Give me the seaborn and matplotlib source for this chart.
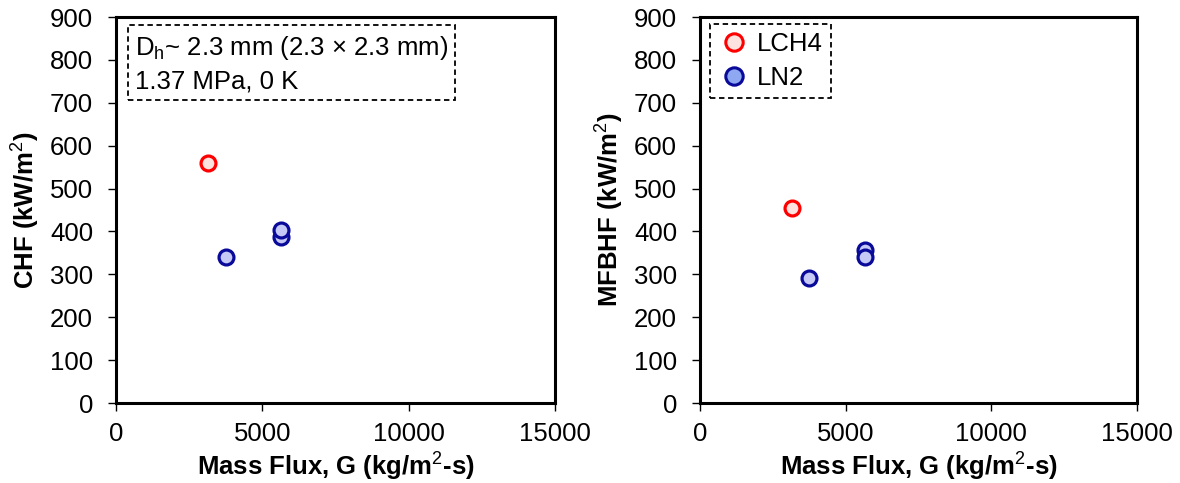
import matplotlib
matplotlib.use("Agg")
import matplotlib.pyplot as plt
from matplotlib.lines import Line2D
import seaborn as sns
import pandas as pd

# Mass flux and heat flux measurements per fluid
lch4_G = [3150]
lch4_chf = [560]
lch4_mfbhf = [455]

ln2_G = [3750, 5650, 5650]
ln2_chf = [340, 388, 403]
ln2_mfbhf = [292, 356, 341]

x_ticks = [0, 5000, 10000, 15000]
y_ticks = [0, 100, 200, 300, 400, 500, 600, 700, 800, 900]

sns.set_theme(style="white")
plt.rcParams["font.family"] = ["Liberation Sans", "DejaVu Sans"]
plt.rcParams["mathtext.fontset"] = "custom"
plt.rcParams["mathtext.rm"] = "Liberation Sans"
plt.rcParams["mathtext.it"] = "Liberation Sans"
plt.rcParams["mathtext.bf"] = "Liberation Sans:bold"
for key in ("text.color", "axes.labelcolor", "xtick.color", "ytick.color"):
    plt.rcParams[key] = "black"

FS = 18.5

df_lch4 = pd.DataFrame({"G": lch4_G, "CHF": lch4_chf, "MFBHF": lch4_mfbhf})
df_ln2 = pd.DataFrame({"G": ln2_G, "CHF": ln2_chf, "MFBHF": ln2_mfbhf})

styles = {
    "LCH4": dict(face="#fde3df", edge="#ff0000", legend_face="#fde3df"),
    "LN2": dict(face="#c6c9f6", edge="#0a0a9a", legend_face="#8fa8f2"),
}

fig = plt.figure(figsize=(11.8, 4.83), dpi=100)
ax1 = fig.add_axes([0.0983, 0.1656, 0.3720, 0.7992])
ax2 = fig.add_axes([0.5932, 0.1656, 0.3703, 0.7992])


def draw(ax, col, ylabel):
    for name, df in (("LCH4", df_lch4), ("LN2", df_ln2)):
        st = styles[name]
        sns.scatterplot(data=df, x="G", y=col, ax=ax, s=115, marker="o",
                        color=st["face"], edgecolor=st["edge"], linewidth=2.3,
                        zorder=3, legend=False)
    ax.set_xlim(0, 15000)
    ax.set_ylim(0, 900)
    ax.set_xticks(x_ticks)
    ax.set_yticks(y_ticks)
    ax.set_xticklabels([str(v) for v in x_ticks])
    ax.set_yticklabels([str(v) for v in y_ticks])
    ax.tick_params(axis="both", direction="out", length=5.5, width=1.0,
                   labelsize=FS, colors="black", bottom=True, left=True)
    ax.tick_params(axis="x", pad=8.5)
    ax.tick_params(axis="y", pad=11)
    for sp in ax.spines.values():
        sp.set_color("black")
        sp.set_linewidth(2.2)
        sp.set_visible(True)
    ax.set_xlabel("Mass Flux, G (kg/m$^{2}$-s)", fontsize=FS, fontweight="bold",
                  labelpad=3)
    ax.set_ylabel(ylabel, fontsize=FS, fontweight="bold", labelpad=6)


draw(ax1, "CHF", "CHF (kW/m$^{2}$)")
draw(ax2, "MFBHF", "MFBHF (kW/m$^{2}$)")

# Test condition note
ax1.text(0.043, 0.955, "D$_{\\mathrm{h}}$~ 2.3 mm (2.3 × 2.3 mm)\n1.37 MPa, 0 K",
         transform=ax1.transAxes, ha="left", va="top", fontsize=FS,
         linespacing=1.35,
         bbox=dict(boxstyle="square,pad=0.28", fc="white", ec="black",
                   lw=1.3, ls=(0, (3, 2))))

handles = [
    Line2D([], [], ls="none", marker="o", markersize=12.5, markeredgewidth=2.2,
           markerfacecolor=styles[n]["legend_face"],
           markeredgecolor=styles[n]["edge"], label=n)
    for n in ("LCH4", "LN2")
]
leg = ax2.legend(handles=handles, loc="upper left", fontsize=FS,
                 frameon=True, fancybox=False, borderpad=0.3,
                 handletextpad=0.25, labelspacing=0.4, handlelength=1.3,
                 bbox_to_anchor=(0.022, 0.982), borderaxespad=0.0)
frame = leg.get_frame()
frame.set_edgecolor("black")
frame.set_linewidth(1.3)
frame.set_linestyle((0, (3, 2)))
frame.set_alpha(1)

fig.savefig("out.png", dpi=100)
